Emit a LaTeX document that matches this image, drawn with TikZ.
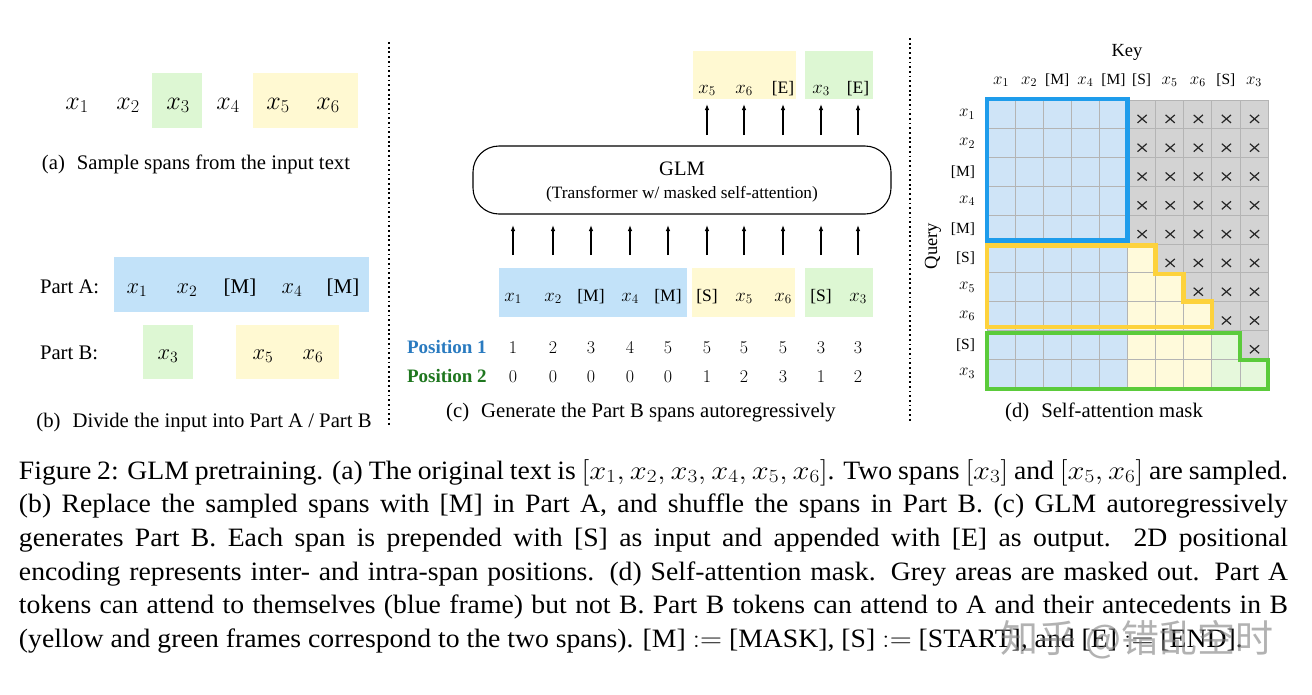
\RequirePackage{fix-cm}
\documentclass[tikz,border=0pt]{standalone}
\usepackage[no-math]{fontspec}
\setmainfont{Liberation Serif}
\newfontfamily\capfont[FakeStretch=1.045]{Liberation Serif}
\newfontfamily\cjk{Noto Sans CJK SC}
\usetikzlibrary{arrows.meta,calc}
\newcommand\fsz[1]{\fontsize{#1}{#1}\selectfont}
\newcommand\mx[1]{{\fsz{17}$x_{#1}$}}
\newcommand\cx[1]{{\fsz{18.8}$x_{#1}$}}
\newcommand\capmath[1]{\scalebox{1.15}[1]{$#1$}}
\definecolor{tokblue}{HTML}{C2E2F9}
\definecolor{tokyellow}{HTML}{FFF9D2}
\definecolor{tokgreen}{HTML}{DDF7D3}
\definecolor{gblue}{HTML}{CFE4F7}
\definecolor{gyellow}{HTML}{FFFADB}
\definecolor{ggreen}{HTML}{E6F8DC}
\definecolor{ggrey}{HTML}{D3D3D3}
\definecolor{gridc}{HTML}{B4B4B4}
\definecolor{fblue}{HTML}{1E9CEB}
\definecolor{fyellow}{HTML}{FDD23C}
\definecolor{fgreen}{HTML}{5BCB3B}
\definecolor{pos1}{HTML}{2A7BC0}
\definecolor{pos2}{HTML}{1F771F}
\begin{document}
\begin{tikzpicture}[x=1pt,y=-1pt,
  every node/.style={inner sep=0pt,outer sep=0pt},
  tok/.style={anchor=base},
  spanbox/.style={rectangle,draw=none,inner sep=0pt},
  arr/.style={line width=1.1pt,-{Latex[length=6pt,width=4.5pt]}},
  sepline/.style={line width=1.6pt,dash pattern=on 1.8pt off 2.9pt},
  subcap/.style={anchor=base,font=\fsz{20.7}},
  capline/.style={anchor=base west,font=\capfont\fsz{26.5}},
  maskframe/.style={line width=4.5pt,line join=miter},
  gridline/.style={line width=0.7pt,draw=gridc},
]
\useasboundingbox (0,0) rectangle (1312,694);
\fill[white] (0,0) rectangle (1312,694);

% separators
\coordinate (s1t) at (389,42); \coordinate (s1b) at (389,425);
\coordinate (s2t) at (910,38); \coordinate (s2b) at (910,421);
\draw[sepline] (s1t) -- (s1b);
\draw[sepline] (s2t) -- (s2b);

% ---------------- (a)
\node[spanbox,fill=tokgreen,minimum width=50pt,minimum height=55pt] (a3b) at (177,100.5) {};
\node[spanbox,fill=tokyellow,minimum width=105pt,minimum height=55pt] (a56b) at (305.5,100.5) {};
\foreach \x/\t in {77/1,128/2,178/3,228/4,278/5,328/6}
  \node[tok,font=\fsz{26}] (a\t) at (\x,109) {$x_{\t}$};
\node[subcap] (capa) at (196,169) {(a)\hspace{12pt}Sample spans from the input text};

% ---------------- (b)
\node[anchor=base west,font=\fsz{20.7}] (pa) at (40,293) {Part A:};
\node[anchor=base west,font=\fsz{20.7}] (pb) at (40,359) {Part B:};
\node[spanbox,fill=tokblue,minimum width=255pt,minimum height=55pt] (bA) at (241.5,284.5) {};
\node[spanbox,fill=tokgreen,minimum width=50pt,minimum height=54pt] (bB1) at (168,352) {};
\node[spanbox,fill=tokyellow,minimum width=103pt,minimum height=54pt] (bB2) at (287.5,352) {};
\node[tok,font=\fsz{22.5}] (b1) at (137,293) {$x_1$};
\node[tok,font=\fsz{22.5}] (b2) at (187,293) {$x_2$};
\node[tok,font=\fsz{21}] (b3) at (240,293) {[M]};
\node[tok,font=\fsz{22.5}] (b4) at (292,293) {$x_4$};
\node[tok,font=\fsz{21}] (b5) at (343,293) {[M]};
\node[tok,font=\fsz{22.5}] (b6) at (168,359) {$x_3$};
\node[tok,font=\fsz{22.5}] (b7) at (263,359) {$x_5$};
\node[tok,font=\fsz{22.5}] (b8) at (313,359) {$x_6$};
\node[subcap] (capb) at (204,427) {(b)\hspace{12pt}Divide the input into Part A / Part B};

% ---------------- (c)
\node[spanbox,fill=tokyellow,minimum width=103pt,minimum height=48pt] (oY) at (744.5,75) {};
\node[spanbox,fill=tokgreen,minimum width=68pt,minimum height=48pt] (oG) at (839,75) {};
\node[spanbox,fill=tokblue,minimum width=188pt,minimum height=49pt] (iB) at (593,292.5) {};
\node[spanbox,fill=tokyellow,minimum width=103pt,minimum height=49pt] (iY) at (743.5,292.5) {};
\node[spanbox,fill=tokgreen,minimum width=68pt,minimum height=49pt] (iG) at (839,292.5) {};

\node[draw,line width=1.1pt,rounded corners=26pt,minimum width=418pt,minimum height=68pt] (glm) at (682,180) {};
\node[tok,font=\fsz{20.5}] (glmt) at (682,175) {GLM};
\node[tok,font=\fsz{17.3}] (glms) at (682,198) {(Transformer w/ masked self-attention)};

\foreach \x/\t [count=\i] in {513/\cx1,553/\cx2,591/{[M]},630/\cx4,668/{[M]},707/{[S]},744/\cx5,783/\cx6,821/{[S]},858/\cx3}{
  \node[tok,font=\fsz{17.5}] (in\i) at (\x,301) {\t};
  \draw[arr,shorten <=13pt,shorten >=11pt] (in\i |- iB.north) -- (in\i |- glm.south);
}
\foreach \x/\t [count=\i] in {707/\cx5,744/\cx6,783/{[E]},821/\cx3,858/{[E]}}{
  \node[tok,font=\fsz{17.5}] (out\i) at (\x,93) {\t};
  \draw[arr,shorten <=11pt,shorten >=5pt] (out\i |- glm.north) -- (out\i |- oY.south);
}
\node[anchor=base west,font=\fsz{19}\bfseries,text=pos1] (p1) at (407,353) {Position 1};
\node[anchor=base west,font=\fsz{19}\bfseries,text=pos2] (p2) at (407,382) {Position 2};
\foreach \x/\v [count=\i] in {513/1,553/2,591/3,630/4,668/5,707/5,744/5,783/5,821/3,858/3}
  \node[tok,font=\fsz{18}] (pa\i) at (\x,353) {$\v$};
\foreach \x/\v [count=\i] in {513/0,553/0,591/0,630/0,668/0,707/1,744/2,783/3,821/1,858/2}
  \node[tok,font=\fsz{18}] (pb\i) at (\x,382) {$\v$};
\node[subcap] (capc) at (641,417) {(c)\hspace{12pt}Generate the Part B spans autoregressively};

% ---------------- (d)
\foreach \c in {0,...,10}
  \foreach \r in {0,...,10}
    \coordinate (g\c-\r) at ({987+28.1*\c},{100+28.8*\r});
\fill[gblue] (g0-0) rectangle (g5-10);
\fill[ggrey] (g5-0) -- (g10-0) -- (g10-9) -- (g9-9) -- (g9-8) -- (g8-8) -- (g8-7) -- (g7-7) -- (g7-6) -- (g6-6) -- (g6-5) -- (g5-5) -- cycle;
\fill[gyellow] (g5-5) -- (g6-5) -- (g6-6) -- (g7-6) -- (g7-7) -- (g8-7) -- (g8-10) -- (g5-10) -- cycle;
\fill[ggreen] (g8-8) -- (g9-8) -- (g9-9) -- (g10-9) -- (g10-10) -- (g8-10) -- cycle;
\foreach \i in {0,...,10}{
  \draw[gridline] (g\i-0) -- (g\i-10);
  \draw[gridline] (g0-\i) -- (g10-\i);
}
% crosses in masked cells
\foreach \r/\cs in {0/5,1/5,2/5,3/5,4/5,5/6,6/7,7/8,8/9}{
  \foreach \c in {\cs,...,9}{
    \coordinate (xc) at ({987+28.1*\c+14.6},{100+28.8*\r+18.9});
    \draw[line width=1.2pt,black!85] ($(xc)+(-4.6,-4)$) -- ($(xc)+(4.6,4)$);
    \draw[line width=1.2pt,black!85] ($(xc)+(-4.6,4)$) -- ($(xc)+(4.6,-4)$);
  }
}
\draw[maskframe,fblue] ([yshift=1pt]g0-0) rectangle ([yshift=3.5pt]g5-5);
\draw[maskframe,fyellow] ([yshift=-1.5pt]g0-5) -- ([yshift=-1.5pt]g6-5) -- ([yshift=-1pt]g6-6) -- ([yshift=-1pt]g7-6) -- (g7-7) -- (g8-7) -- ([yshift=3.4pt]g8-8) -- ([yshift=3.4pt]g0-8) -- cycle;
\draw[maskframe,fgreen] ([yshift=-2.6pt]g0-8) -- ([yshift=-2.6pt]g9-8) -- ([yshift=-0.8pt]g9-9) -- ([yshift=-0.8pt]g10-9) -- ([yshift=-1pt]g10-10) -- ([yshift=-1pt]g0-10) -- cycle;

\node[tok,font=\fsz{18.5}] (key) at (1127,56) {Key};
\node[font=\fsz{18.5},rotate=90] (query) at (933,246) {Query};
\foreach \t [count=\i from 0] in {\mx1,\mx2,{[M]},\mx4,{[M]},{[S]},\mx5,\mx6,{[S]},\mx3}{
  \node[tok,font=\fsz{15.5}] (ck\i) at ({987+28.1*\i+14.05},84) {\t};
  \node[anchor=east,font=\fsz{15.5}] (rq\i) at (975,{100+28.8*\i+14.4}) {\t};
}
\node[subcap] (capd) at (1104,417) {(d)\hspace{12pt}Self-attention mask};

% ---------------- main caption
\node[capline] (cl1) at (19,479) {\makebox[1269pt][s]{Figure 2: GLM pretraining. (a) The original text is \capmath{[x_1, x_2, x_3, x_4, x_5, x_6]}. Two spans \capmath{[x_3]} and \capmath{[x_5, x_6]} are sampled.}};
\node[capline] (cl2) at (19,512.7) {\makebox[1269pt][s]{(b) Replace the sampled spans with [M] in Part A, and shuffle the spans in Part B. (c) GLM autoregressively}};
\node[capline] (cl3) at (19,546.3) {\makebox[1269pt][s]{generates Part B. Each span is prepended with [S] as input and appended with [E] as output.\ \ 2D positional}};
\node[capline] (cl4) at (19,580) {\makebox[1269pt][s]{encoding represents inter- and intra-span positions. (d) Self-attention mask. Grey areas are masked out. Part A}};
\node[capline] (cl5) at (19,613.5) {\makebox[1269pt][s]{tokens can attend to themselves (blue frame) but not B. Part B tokens can attend to A and their antecedents in B}};
\node[capline] (cl6) at (19,647) {(yellow and green frames correspond to the two spans). [M] \capmath{:=} [MASK], [S] \capmath{:=} [START], and [E] \capmath{:=} [END].};

% watermark
\node[font=\cjk\fsz{38},text=gray,opacity=0.6] (wm) at (1137,640) {知乎 @错乱空时};
\end{tikzpicture}
\end{document}
